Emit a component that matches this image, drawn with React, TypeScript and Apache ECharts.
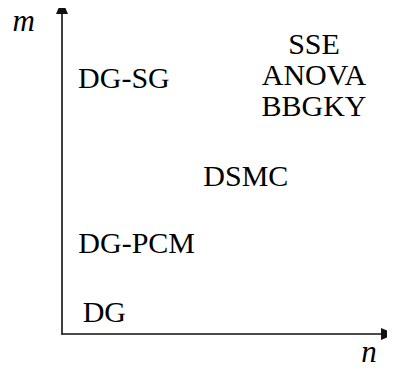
import React, { useEffect, useRef } from "react";
import * as echarts from "echarts";

const methods = ["DG", "DG-PCM", "DSMC", "DG-SG", "SSE\nANOVA\nBBGKY"];
const nValues = [1.3, 2.29, 5.64, 1.9, 7.73];
const mValues = [0.69, 2.81, 4.86, 7.83, 7.95];
const xName = "n";
const yName = "m";

export default function App() {
  const ref = useRef<HTMLDivElement>(null);
  useEffect(() => {
    if (!ref.current) return;
    const chart = echarts.init(ref.current, undefined, { renderer: "svg" });
    const font = "Liberation Serif";
    const axisCommon = {
      type: "value" as const,
      min: 0,
      max: 10,
      axisTick: { show: false },
      axisLabel: { show: false },
      splitLine: { show: false },
      axisLine: {
        show: true,
        symbol: ["none", "triangle"],
        symbolSize: [12, 14],
        lineStyle: { color: "#111", width: 1.6 },
      },
    };
    chart.setOption({
      animation: false,
      backgroundColor: "#ffffff",
      grid: { left: 62, right: 7, top: 7, bottom: 37 },
      xAxis: {
        ...axisCommon,
        name: xName,
        nameLocation: "end",
        nameGap: -19,
        nameTextStyle: {
          fontFamily: font,
          fontStyle: "italic",
          fontSize: 31,
          color: "#000",
          align: "center",
          verticalAlign: "top",
          padding: [2, 0, 0, 0],
        },
      },
      yAxis: {
        ...axisCommon,
        name: yName,
        nameLocation: "end",
        nameGap: -13,
        nameTextStyle: {
          fontFamily: font,
          fontStyle: "italic",
          fontSize: 31,
          color: "#000",
          align: "right",
          verticalAlign: "middle",
          padding: [0, 27, 0, 0],
        },
      },
      series: [
        {
          type: "scatter",
          symbolSize: 0,
          itemStyle: { opacity: 1, color: "#000" },
          data: methods.map((name, i) => ({ name, value: [nValues[i], mValues[i]] })),
          label: {
            show: true,
            position: "inside",
            formatter: "{b}",
            fontFamily: font,
            fontSize: 30,
            lineHeight: 31,
            color: "#000",
            opacity: 1,
            textBorderWidth: 0,
            align: "center",
            verticalAlign: "middle",
          },
        },
      ],
    });
    return () => chart.dispose();
  }, []);
  return <div ref={ref} style={{ width: 395, height: 371, margin: -8 }} />;
}
